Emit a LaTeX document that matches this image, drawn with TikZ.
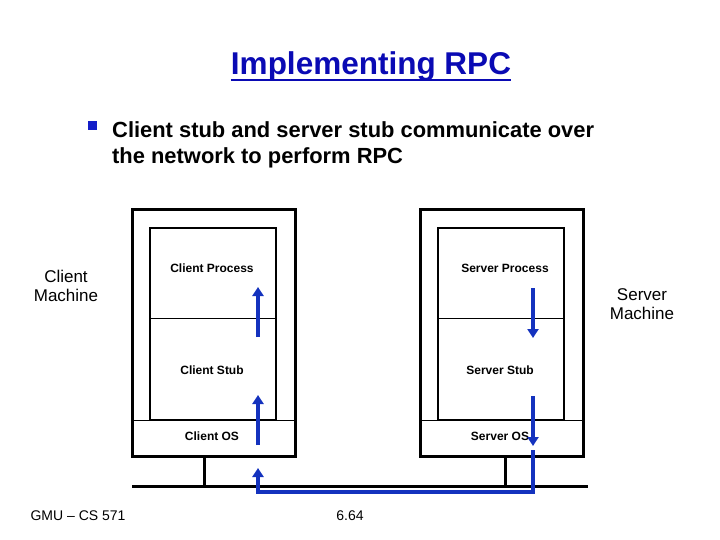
\documentclass[tikz,border=0pt]{standalone}
\usepackage{fontspec}
\setmainfont{Liberation Sans}
\usetikzlibrary{arrows.meta}
\begin{document}
\begin{tikzpicture}[x=1pt,y=-1pt,
  thick box/.style={draw,line width=3pt},
  thin box/.style={draw,line width=1.5pt},
  lbl/.style={font=\fontsize{12}{13}\selectfont\bfseries},
  flow/.style={draw={rgb,255:red,20;green,50;blue,190},line width=3.5pt,-{Triangle[length=9pt,width=11pt]}}]
\useasboundingbox (0,0) rectangle (720,540);
\node[font=\fontsize{31.5}{36}\selectfont\bfseries,text={rgb,255:red,10;green,10;blue,180},inner sep=0pt] (title) at (371,66) {Implementing RPC};
\draw[line width=1.8pt,draw={rgb,255:red,10;green,10;blue,180}] ([yshift=1pt]title.south west) -- ([yshift=1pt]title.south east);
\node[fill={rgb,255:red,20;green,30;blue,200},minimum size=9pt,inner sep=0pt] (bul) at (92,126) {};
\node[font=\fontsize{21.9}{26}\selectfont\bfseries,anchor=north west,align=left,inner sep=0pt] (txt) at (112,121) {Client stub and server stub communicate over\\the network to perform RPC};
\node[font=\fontsize{17}{19}\selectfont,align=center] (cm) at (66,286) {Client\\Machine};
\node[font=\fontsize{17}{19}\selectfont,align=center] (sm) at (642,304) {Server\\Machine};
% client machine
\draw[thick box] (132,210) rectangle (295,456);
\draw[thin box] (150,228) rectangle (276,420);
\draw (150,318) -- (276,318);
\draw (132,420) -- (295,420);
% server machine
\draw[thick box] (420,210) rectangle (583,456);
\draw[thin box] (438,228) rectangle (564,420);
\draw (438,318) -- (564,318);
\draw (420,420) -- (583,420);
% network
\draw[line width=3pt] (132,486) -- (588,486);
\draw[line width=3pt] (204,456) -- (204,486);
\draw[line width=3pt] (505,456) -- (505,486);
\node[lbl] (cp) at (212,268) {Client Process};
\node[lbl] (cs) at (212,370) {Client Stub};
\node[lbl] (co) at (212,436) {Client OS};
\node[lbl] (sp) at (505,268) {Server Process};
\node[lbl] (ss) at (500,370) {Server Stub};
\node[lbl] (so) at (500,436) {Server OS};
\coordinate (a1s) at (258,337); \coordinate (a1e) at (258,287);
\coordinate (a2s) at (258,445); \coordinate (a2e) at (258,395);
\coordinate (b1s) at (533,288); \coordinate (b1e) at (533,338);
\coordinate (b2s) at (533,396); \coordinate (b2e) at (533,446);
\coordinate (ns) at (533,450); \coordinate (nm1) at (533,492); \coordinate (nm2) at (258,492); \coordinate (ne) at (258,468);
\path[flow] (a1s) -- (a1e);
\path[flow] (a2s) -- (a2e);
\path[flow] (b1s) -- (b1e);
\path[flow] (b2s) -- (b2e);
\path[flow] (ns) -- (nm1) -- (nm2) -- (ne);
\node[font=\fontsize{14}{16}\selectfont] (f1) at (78,516) {GMU -- CS 571};
\node[font=\fontsize{14}{16}\selectfont] (f2) at (350,516) {6.64};
\end{tikzpicture}
\end{document}
